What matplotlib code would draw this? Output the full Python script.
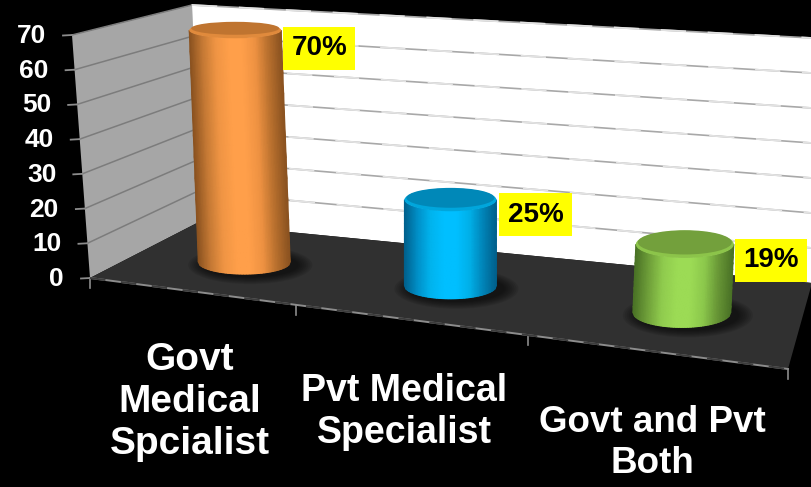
import numpy as np
import matplotlib
matplotlib.use('Agg')
import matplotlib.pyplot as plt
from matplotlib.patches import Polygon, Ellipse

plt.rcParams['font.family'] = ['Liberation Sans', 'DejaVu Sans']

categories = ['Govt\nMedical\nSpcialist', 'Pvt Medical\nSpecialist', 'Govt and Pvt\nBoth']
values = [70, 25, 19]
value_labels = ['70%', '25%', '19%']
y_ticks = [0, 10, 20, 30, 40, 50, 60, 70]

# corners of the 3d box, in pixels
FRONT_LEFT = (90, 278)
FRONT_RIGHT = (788, 369)
BACK_LEFT = (197, 223)
BACK_RIGHT = (812, 283)
WALL_FRONT_TOP = (72, 35)
WALL_BACK_TOP = (192, 5)
WALL_RIGHT_TOP = (812, 38)
FLOOR_DEPTH = 0.5
# where the category slots end along the floor (perspective makes them grow)
slot_edges = [0, 0.295, 0.628, 1]

side_colors = [
    ['#8a5220', '#c67a35', '#f09544', '#ff9f4a', '#ff9f4a', '#ee9242', '#b8702e', '#8a5220'],
    ['#00608c', '#0090c8', '#00b4ee', '#00bfff', '#00bfff', '#00b0e8', '#0084b8', '#00608c'],
    ['#4a7226', '#70a03a', '#90cc4e', '#9cdb55', '#9cdb55', '#8cc84c', '#689636', '#4a7226'],
]
top_colors = ['#bf7430', '#0088b8', '#73a03c']
rim_colors = ['#e08a3c', '#00a6dc', '#8cc44a']
radius_x = [46, 46, 49]
radius_y = [12, 13, 15]
label_offset = [(84, 18), (85, 15), (86, 16)]
text_pos = [(190, 402), (404, 412), (652, 443)]
text_size = [28, 27, 26.5]


def floor_point(f, d):
    x0 = FRONT_LEFT[0] + (FRONT_RIGHT[0] - FRONT_LEFT[0]) * f
    y0 = FRONT_LEFT[1] + (FRONT_RIGHT[1] - FRONT_LEFT[1]) * f
    x1 = BACK_LEFT[0] + (BACK_RIGHT[0] - BACK_LEFT[0]) * f
    y1 = BACK_LEFT[1] + (BACK_RIGHT[1] - BACK_LEFT[1]) * f
    return x0 + (x1 - x0) * d, y0 + (y1 - y0) * d


def edge_point(bottom, top, v):
    t = v / max(y_ticks)
    return bottom[0] + (top[0] - bottom[0]) * t, bottom[1] + (top[1] - bottom[1]) * t


def draw_cylinder(ax, i):
    f = (slot_edges[i] + slot_edges[i + 1]) / 2 + 0.006
    bx, by = floor_point(f, FLOOR_DEPTH)
    rx, ry = radius_x[i], radius_y[i]
    px_per_unit = 3.16 + 0.00062 * bx
    height = values[i] * px_per_unit
    lean = (bx - 450) * 0.00019 * height
    tx, ty = bx + lean, by - height
    ry_top = ry * (1 - 0.0048 * values[i])

    # soft shadow on the floor
    for k in range(8):
        ax.add_patch(Ellipse((bx + 6, by + 3), 2 * rx + 32 - 4 * k, 2 * ry + 14 - 2 * k,
                             color='black', alpha=0.09, lw=0, zorder=3))

    # side, shaded across the width
    cmap = matplotlib.colors.LinearSegmentedColormap.from_list('c', side_colors[i])
    t = np.linspace(-1, 1, 61)
    s = np.linspace(0, 1, 12)
    T, S = np.meshgrid(t, s)
    X = bx + (tx - bx) * S + T * rx
    R = ry + (ry_top - ry) * S
    Y = by + (ty - by) * S + np.sqrt(1 - T ** 2) * R
    ax.pcolormesh(X, Y, (T + 1) / 2, cmap=cmap, shading='gouraud', zorder=4)

    # lid
    ax.add_patch(Ellipse((tx, ty), 2 * rx, 2 * ry_top, color=rim_colors[i], lw=0, zorder=5))
    ax.add_patch(Ellipse((tx, ty - 2), 2 * rx - 4, 2 * ry_top - 3, color=top_colors[i], lw=0, zorder=6))
    return tx, ty


fig = plt.figure(figsize=(8.12, 4.87), dpi=100, facecolor='black')
ax = fig.add_axes([0, 0, 1, 1])
ax.set_xlim(0, 812)
ax.set_ylim(487, 0)
ax.axis('off')

ax.add_patch(Polygon([FRONT_LEFT, WALL_FRONT_TOP, WALL_BACK_TOP, BACK_LEFT], color='#a6a6a6', lw=0, zorder=1))
ax.add_patch(Polygon([BACK_LEFT, WALL_BACK_TOP, WALL_RIGHT_TOP, BACK_RIGHT], color='white', lw=0, zorder=1))
ax.add_patch(Polygon([FRONT_LEFT, BACK_LEFT, BACK_RIGHT, FRONT_RIGHT], color='#303030', lw=0, zorder=2))

# gridlines on both walls and ticks on the value axis
for v in y_ticks:
    fx, fy = edge_point(FRONT_LEFT, WALL_FRONT_TOP, v)
    bx, by = edge_point(BACK_LEFT, WALL_BACK_TOP, v)
    rx, ry = edge_point(BACK_RIGHT, WALL_RIGHT_TOP, v)
    if v > 0:
        ax.plot([fx, bx], [fy, by], color='#7c7c7c', lw=1.1, zorder=1.5)
        ax.plot([bx, rx], [by, ry], color='#a8a8a8', lw=1.2, zorder=1.5)
        ax.plot([bx, rx], [by, ry], color='#e2e2e2', lw=1.3, dashes=(14, 12), zorder=1.6)
    ax.plot([fx - 9, fx], [fy + 0.5, fy], color='#8c8c8c', lw=1.3, zorder=2)
    ax.text(fx - 26, fy + 1, str(v), color='white', fontsize=19, fontweight='bold',
            ha='right', va='center', zorder=8)

# front edge of the floor with category ticks
ax.plot(*zip(FRONT_LEFT, FRONT_RIGHT), color='#8c8c8c', lw=1.4, zorder=2.5)
ax.plot(*zip(FRONT_LEFT, FRONT_RIGHT), color='#3c3c3c', lw=1.4, dashes=(8, 8), zorder=2.6)
for f in slot_edges:
    x, y = floor_point(f, 0)
    ax.plot([x, x], [y, y + 10], color='#8c8c8c', lw=1.2, zorder=2.5)

for i in range(len(values)):
    tx, ty = draw_cylinder(ax, i)
    dx, dy = label_offset[i]
    ax.text(tx + dx, ty + dy, value_labels[i], color='black', fontsize=20, fontweight='bold',
            ha='center', va='center', zorder=9,
            bbox=dict(boxstyle='square,pad=0.3', fc='#ffff00', ec='none'))

for label, (x, y), size in zip(categories, text_pos, text_size):
    ax.text(x, y, label, color='white', fontsize=size, fontweight='bold', ha='center', va='center',
            linespacing=1.22, zorder=9)

fig.savefig('out.png', dpi=100, facecolor='black')
